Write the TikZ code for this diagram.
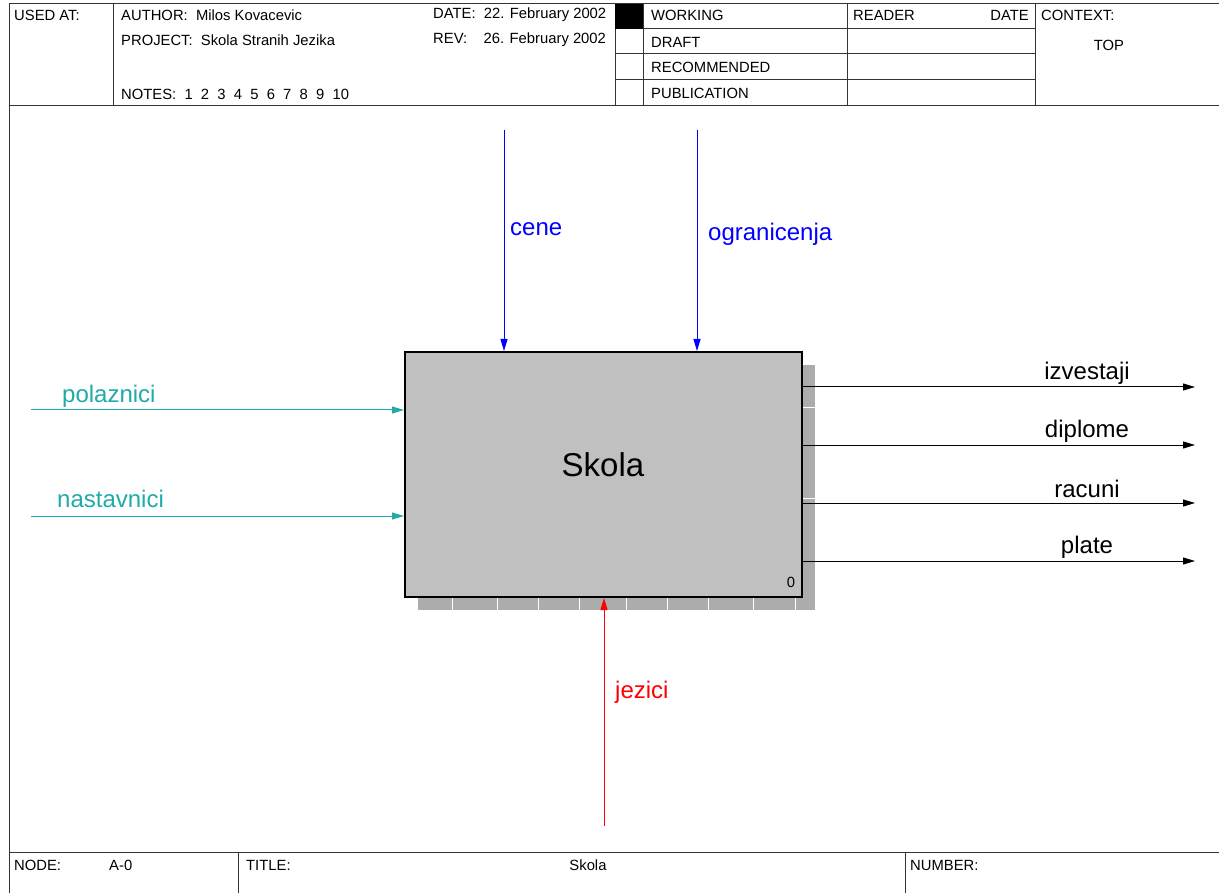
\documentclass[tikz,border=0pt]{standalone}
\usepackage{fontspec}
\setmainfont{Liberation Sans}
\usetikzlibrary{arrows.meta,positioning}
\definecolor{ctrlblue}{RGB}{0,0,255}
\definecolor{inteal}{RGB}{32,170,170}
\definecolor{mechred}{RGB}{255,0,0}
\definecolor{boxgray}{RGB}{192,192,192}
\definecolor{shadowgray}{RGB}{172,172,172}
\tikzset{
  hdr/.style={font=\fontsize{14.8}{17}\selectfont, anchor=west, inner sep=0pt},
  lbl/.style={font=\fontsize{24}{28}\selectfont, inner sep=0pt},
  arr/.style={-{Triangle[length=12pt,width=7pt]}, line width=1pt},
  frame/.style={line width=1pt, draw=black!80},
}
\begin{document}
\begin{tikzpicture}[x=1pt,y=-1pt]
    \useasboundingbox (0,0) rectangle (1219,893);
    % frame and header
    \draw[frame] (9,893) -- (9,4) -- (1219,4);
    \draw[frame] (9,106) -- (1219,106);
    \draw[frame] (113,4) -- (113,106);
    \draw[frame] (615,4) -- (615,106);
    \draw[frame] (643,4) -- (643,106);
    \draw[frame] (847,4) -- (847,106);
    \draw[frame] (1035,4) -- (1035,106);
    \draw[frame] (615,29) -- (1035,29);
    \draw[frame] (615,54) -- (1035,54);
    \draw[frame] (615,80) -- (1035,80);
    \fill[black] (615,4) rectangle (643,29);
    \node[hdr] (usedat) at (14,15) {USED AT:};
    \node[hdr] (author) at (121,15) {AUTHOR:\ \ Milos Kovacevic};
    \node[hdr] (project) at (121,40) {PROJECT:\ \ Skola Stranih Jezika};
    \node[hdr] (notes) at (121,94) {NOTES:\ \ 1\ \ 2\ \ 3\ \ 4\ \ 5\ \ 6\ \ 7\ \ 8\ \ 9\ \ 10};
    \node[hdr] (date) at (433,15) {DATE:\ \ 22. February 2002};
    \node[hdr] (rev) at (433,40) {REV:\ \ \ \ 26. February 2002};
    \node[hdr] (working) at (651,15) {WORKING};
    \node[hdr] (draft) at (651,42) {DRAFT};
    \node[hdr] (recomm) at (651,67) {RECOMMENDED};
    \node[hdr] (public) at (651,93) {PUBLICATION};
    \node[hdr] (reader) at (853,15) {READER};
    \node[hdr, anchor=east] (rdate) at (1029,15) {DATE};
    \node[hdr] (context) at (1041,15) {CONTEXT:};
    \node[hdr, anchor=center] (top) at (1109,45) {TOP};
    % footer
    \draw[frame] (9,852) -- (1219,852);
    \draw[frame] (238,852) -- (238,893);
    \draw[frame] (905,852) -- (905,893);
    \node[hdr] (nodelbl) at (14,865) {NODE:};
    \node[hdr] (nodeval) at (109,865) {A-0};
    \node[hdr] (title) at (246,865) {TITLE:};
    \node[hdr, anchor=center] (titleval) at (588,865) {Skola};
    \node[hdr] (number) at (910,865) {NUMBER:};
    % activity box with shadow
    \fill[shadowgray] (802,365) rectangle (815,610);
    \fill[shadowgray] (418,597) rectangle (815,610);
    \foreach \xs in {452,497,538,579,626,667,708,753,795}
        \draw[white, line width=0.8pt] (\xs,598) -- (\xs,610);
    \foreach \ys in {407,498}
        \draw[white, line width=0.8pt] (803,\ys) -- (815,\ys);
    \node[draw, line width=2pt, fill=boxgray, minimum width=397pt, minimum height=245pt,
          inner sep=0pt] (skola) at (603.5,474.5) {};
    \node[font=\fontsize{33}{38}\selectfont] (skolatxt) at (603,465) {Skola};
    \node[hdr, anchor=center] (boxnum) at (791,582) {0};
    % controls
    \coordinate (ceneA) at (504,130);
    \coordinate (ograA) at (697,130);
    \draw[arr, ctrlblue] (ceneA) -- (ceneA |- skola.north);
    \draw[arr, ctrlblue] (ograA) -- (ograA |- skola.north);
    \node[lbl, ctrlblue, anchor=west] (cene) at (510,229) {cene};
    \node[lbl, ctrlblue, anchor=west] (ogra) at (708,234) {ogranicenja};
    % inputs
    \coordinate (polA) at (31,410);
    \coordinate (nasA) at (31,516);
    \draw[arr, inteal] (polA) -- (polA -| skola.west);
    \draw[arr, inteal] (nasA) -- (nasA -| skola.west);
    \node[lbl, inteal, anchor=west] (polaz) at (62,396) {polaznici};
    \node[lbl, inteal, anchor=west] (nastav) at (57,499) {nastavnici};
    % mechanism
    \coordinate (jezA) at (604,826);
    \draw[arr, mechred] (jezA) -- (jezA |- skola.south);
    \node[lbl, mechred, anchor=west] (jezici) at (615,692) {jezici};
    % outputs
    \foreach \yo/\name in {387/izvestaji, 445/diplome, 503/racuni, 561/plate} {
        \coordinate (out\name) at (1195,\yo);
        \draw[arr] (out\name -| skola.east) -- (out\name);
        \node[lbl] at (1087,\yo-14) {\name};
    }
\end{tikzpicture}
\end{document}
